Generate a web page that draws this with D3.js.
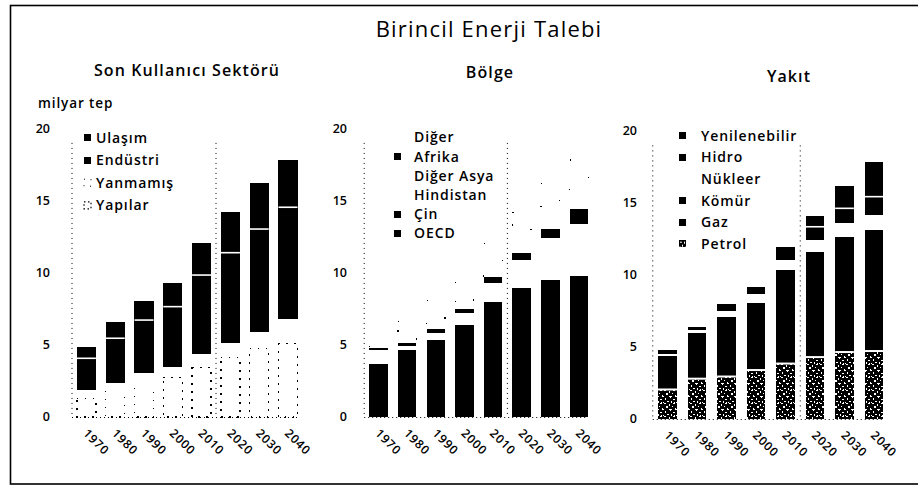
<!DOCTYPE html>
<html>
<head>
<meta charset="utf-8">
<script src="https://cdn.jsdelivr.net/npm/d3@7"></script>
<style>
  html, body { margin: 0; padding: 0; background: #fff; }
  svg text { font-family: "Open Sans", "Noto Sans", sans-serif; fill: #000; }
</style>
</head>
<body>
<svg id="chart" width="918" height="487"></svg>
<script>
// ---- data (milyar tep) ----
const years = ["1970", "1980", "1990", "2000", "2010", "2020", "2030", "2040"];
const yTicks = [0, 5, 10, 15, 20];

// Son Kullanıcı Sektörü
const yapilar   = [1.30, 1.75, 2.10, 2.75, 3.45, 4.15, 4.75, 5.10];
const yanmamis  = [0.57, 0.59, 0.93, 0.74, 0.92, 0.96, 1.16, 1.67];
const endustri  = [2.20, 3.12, 3.69, 4.16, 5.47, 6.28, 7.12, 7.77];
const ulasim    = [0.80, 1.15, 1.34, 1.66, 2.20, 2.80, 3.17, 3.28];

// Bölge
const oecd      = [3.25, 4.00, 4.40, 5.20, 5.55, 5.65, 5.75, 5.85];
const cin       = [0.40, 0.64, 0.94, 1.18, 2.44, 3.27, 3.75, 3.95];
const hindistan = [0.45, 0.13, 0.22, 0.38, 0.60, 0.88, 1.30, 1.62];
const digerAsya = [0.55, 0.15, 0.28, 0.47, 0.72, 1.08, 1.59, 1.96];
const afrika    = [0.12, 0.19, 0.24, 0.26, 0.42, 0.47, 0.62, 1.02];
const diger     = [0.10, 1.50, 1.98, 1.82, 2.31, 2.84, 3.19, 3.42];

// Yakıt
const petrol        = [2.05, 2.80, 2.95, 3.40, 3.85, 4.30, 4.65, 4.72];
const gaz           = [0.90, 1.20, 1.70, 2.10, 2.70, 3.20, 3.70, 4.10];
const komur         = [1.43, 1.95, 2.41, 2.53, 3.80, 4.12, 4.31, 4.31];
const nukleer       = [0.13, 0.23, 0.46, 0.65, 0.69, 0.81, 0.93, 1.04];
const hidro         = [0.12, 0.10, 0.20, 0.23, 0.40, 0.92, 1.04, 1.27];
const yenilenebilir = [0.16, 0.13, 0.25, 0.28, 0.53, 0.75, 1.57, 2.39];

// ---- panels (stack order bottom -> top) ----
const panels = [
  {
    title: "Son Kullanıcı Sektörü", titleX: 187, titleY: 76,
    x0: 72, x1: 302.4, pad: 0.34, yBase: 417, yTop: 128.5, tickX: 50,
    legend: { mx: 87.5, tx: 96, y0: 137.5, step: 22.6 },
    series: [
      { name: "Yapılar",  values: yapilar,  style: "dotted" },
      { name: "Yanmamış", values: yanmamis, style: "faint" },
      { name: "Endüstri", values: endustri, style: "solid", sep: { w: 1.6, min: 0 } },
      { name: "Ulaşım",   values: ulasim,   style: "solid" }
    ]
  },
  {
    title: "Bölge", titleX: 490, titleY: 78,
    x0: 364.2, x1: 593.3, pad: 0.354, yBase: 417, yTop: 128.5, tickX: 347,
    legend: { mx: 397, tx: 414, y0: 137.3, step: 19.2 },
    series: [
      { name: "OECD",       values: oecd,      style: "solid" },
      { name: "Çin",        values: cin,       style: "solid" },
      { name: "Hindistan",  values: hindistan, style: "white" },
      { name: "Diğer Asya", values: digerAsya, style: "white" },
      { name: "Afrika",     values: afrika,    style: "solid" },
      { name: "Diğer",      values: diger,     style: "sparse" }
    ]
  },
  {
    title: "Yakıt", titleX: 789, titleY: 82,
    x0: 652.75, x1: 888.75, pad: 0.366, yBase: 419, yTop: 131, tickX: 637,
    legend: { mx: 682, tx: 701, y0: 135.7, step: 21.6 },
    series: [
      { name: "Petrol",        values: petrol,        style: "speckle", sep: { w: 2, min: 0 } },
      { name: "Gaz",           values: gaz,           style: "solid" },
      { name: "Kömür",         values: komur,         style: "solid" },
      { name: "Nükleer",       values: nukleer,       style: "white" },
      { name: "Hidro",         values: hidro,         style: "solid", sep: { w: 1.6, min: 8 } },
      { name: "Yenilenebilir", values: yenilenebilir, style: "solid" }
    ]
  }
];

const svg = d3.select("#chart");
svg.append("rect").attr("width", 918).attr("height", 487).attr("fill", "#fff");

// speckled fill used for oil: dark tile with irregular light flecks
const defs = svg.append("defs");
const pat = defs.append("pattern").attr("id", "speckle")
  .attr("patternUnits", "userSpaceOnUse").attr("width", 13).attr("height", 13);
pat.append("rect").attr("width", 13).attr("height", 13).attr("fill", "#000");
[[1,0,2,1],[6,1,1,2],[10,0,2,1],[3,3,2,2],[9,3,1,1],[12,5,1,2],[0,6,1,1],
 [6,6,3,1],[7,7,1,1],[2,8,1,2],[10,9,2,1],[4,11,2,1],[8,11,1,2],[0,12,1,1],[11,12,1,1]]
  .forEach(([px, py, w, h]) => pat.append("rect").attr("x", px).attr("y", py)
    .attr("width", w).attr("height", h).attr("fill", "#fff"));

// outer frame
svg.append("rect").attr("x", 10.5).attr("y", 5.5).attr("width", 930).attr("height", 478.5)
  .attr("fill", "none").attr("stroke", "#000").attr("stroke-width", 1.6);

svg.append("text").attr("x", 489).attr("y", 37).attr("text-anchor", "middle")
  .attr("font-size", 22).attr("letter-spacing", 1.2).text("Birincil Enerji Talebi");

svg.append("text").attr("x", 38).attr("y", 108).attr("font-size", 13.5)
  .attr("font-weight", 600).attr("letter-spacing", 0.9).text("milyar tep");

function segStyle(sel, style) {
  sel.attr("shape-rendering", "crispEdges");
  if (style === "solid") sel.attr("fill", "#000");
  else if (style === "speckle") sel.attr("fill", "url(#speckle)");
  else if (style === "dotted") sel.attr("fill", "#fff").attr("stroke", "#000")
    .attr("stroke-width", 1.3).attr("stroke-dasharray", "1.5 6.5");
  else if (style === "sparse") sel.attr("fill", "none").attr("stroke", "#000")
    .attr("stroke-width", 1.2).attr("stroke-dasharray", "1.2 34");
  else sel.attr("fill", "#fff");
}

panels.forEach(cfg => {
  const x = d3.scaleBand().domain(years).range([cfg.x0, cfg.x1])
    .paddingInner(cfg.pad).paddingOuter(cfg.pad / 2);
  const y = d3.scaleLinear().domain([0, 20]).range([cfg.yBase, cfg.yTop]);

  const keys = cfg.series.map(s => s.name);
  const table = years.map((yr, i) => {
    const row = { year: yr };
    cfg.series.forEach(s => { row[s.name] = s.values[i]; });
    return row;
  });
  const stacked = d3.stack().keys(keys)(table);

  const g = svg.append("g");

  // dotted value axis and the history / outlook divider
  const divX = x(years[5]) - (x.step() - x.bandwidth()) / 2;
  [cfg.x0, divX].forEach(lx => {
    g.append("line").attr("x1", lx).attr("x2", lx)
      .attr("y1", y(19)).attr("y2", y(0))
      .attr("stroke", "#000").attr("stroke-width", 1).attr("stroke-dasharray", "1 4");
  });
  g.append("line").attr("x1", cfg.x0).attr("x2", cfg.x1 - x.step() * cfg.pad / 2)
    .attr("y1", y(0) + 0.5).attr("y2", y(0) + 0.5)
    .attr("stroke", "#000").attr("stroke-width", 1).attr("stroke-dasharray", "1 3");

  // stacked segments
  stacked.forEach((layer, li) => {
    const s = cfg.series[li];
    const rects = g.append("g").selectAll("rect").data(layer).join("rect")
      .attr("x", d => x(d.data.year))
      .attr("y", d => y(d[1]))
      .attr("width", x.bandwidth())
      .attr("height", d => y(d[0]) - y(d[1]));
    segStyle(rects, s.style);
  });

  // white division lines between selected segments
  stacked.forEach((layer, li) => {
    const s = cfg.series[li];
    if (!s.sep || li + 1 >= stacked.length) return;
    const next = stacked[li + 1];
    const pts = layer.filter((d, i) => {
      const h1 = y(d[0]) - y(d[1]);
      const h2 = y(next[i][0]) - y(next[i][1]);
      return h1 >= s.sep.min && h2 >= s.sep.min;
    });
    g.append("g").selectAll("line").data(pts).join("line")
      .attr("x1", d => x(d.data.year)).attr("x2", d => x(d.data.year) + x.bandwidth())
      .attr("y1", d => y(d[1])).attr("y2", d => y(d[1]))
      .attr("stroke", "#fff").attr("stroke-width", s.sep.w);
  });

  // value labels
  g.append("g").selectAll("text").data(yTicks).join("text")
    .attr("x", cfg.tickX).attr("y", d => y(d)).attr("dy", "0.35em")
    .attr("text-anchor", "end").attr("font-size", 12.5).attr("font-weight", 600)
    .text(d => d);

  // year labels
  g.append("g").selectAll("text").data(years).join("text")
    .attr("transform", d => `translate(${x(d) + x.bandwidth() / 2 - 4},${cfg.yBase + 17}) rotate(45)`)
    .attr("font-size", 12).attr("font-weight", 600).attr("letter-spacing", 0.8)
    .text(d => d);

  // panel heading
  g.append("text").attr("x", cfg.titleX).attr("y", cfg.titleY).attr("text-anchor", "middle")
    .attr("font-size", 16).attr("font-weight", 600).attr("letter-spacing", 1.1)
    .text(cfg.title);

  // legend (top of stack first)
  const L = cfg.legend;
  const items = cfg.series.slice().reverse();
  const rows = g.append("g").selectAll("g").data(items).join("g")
    .attr("transform", (d, i) => `translate(0,${L.y0 + i * L.step})`);
  rows.filter(d => d.style !== "white" && d.style !== "sparse")
    .append("rect")
    .attr("x", L.mx - 3.5).attr("y", -3.5).attr("width", 7).attr("height", 7)
    .each(function (d) {
      const r = d3.select(this);
      if (d.style === "faint") {
        r.attr("fill", "#fff").attr("stroke", "#000").attr("stroke-width", 1)
          .attr("stroke-dasharray", "1 6");
      } else if (d.style === "dotted") {
        r.attr("fill", "#fff").attr("stroke", "#000").attr("stroke-width", 1.2)
          .attr("stroke-dasharray", "1.5 2.5");
      } else {
        segStyle(r, d.style);
      }
    });
  rows.append("text").attr("x", L.tx).attr("dy", "0.36em")
    .attr("font-size", 14).attr("font-weight", 600).attr("letter-spacing", 0.9)
    .text(d => d.name);
});
</script>
</body>
</html>
